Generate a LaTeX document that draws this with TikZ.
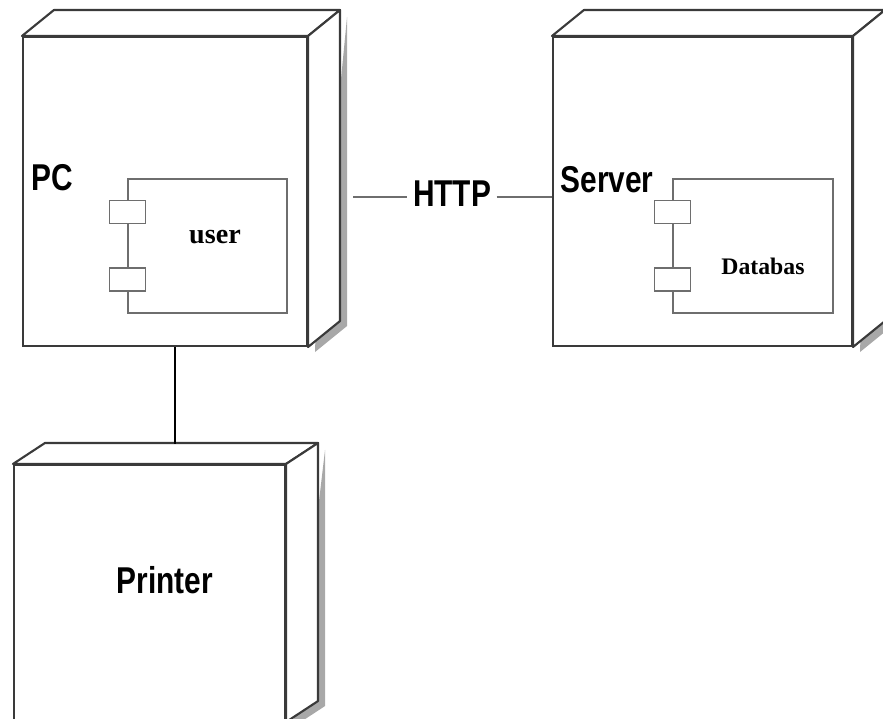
\documentclass[tikz,border=0pt]{standalone}
\usepackage{fontspec}
\setmainfont{Liberation Serif}
\newfontfamily\arialfont{Liberation Sans}
\usetikzlibrary{positioning, calc}
\definecolor{edgeGrey}{HTML}{3A3A3A}
\definecolor{wireGrey}{HTML}{6E6E6E}
\definecolor{shadeGrey}{HTML}{A8A8A8}
\newcommand{\tallsans}[1]{\scalebox{1}[1.25]{\arialfont\bfseries #1}}

\begin{document}
\begin{tikzpicture}[x=0.02cm, y=-0.02cm,
  devbox/.style={draw=edgeGrey, line width=1.2pt, fill=white, inner sep=0pt},
  side/.style={draw=edgeGrey, line width=1.2pt, fill=white, line join=round},
  comp/.style={draw=wireGrey, line width=0.8pt, fill=white, inner sep=0pt},
  port/.style={draw=wireGrey, line width=0.8pt, fill=white, inner sep=0pt,
               minimum width=0.72cm, minimum height=0.46cm},
  devlabel/.style={inner sep=1pt, font=\fontsize{17}{20}\selectfont},
  link/.style={draw=wireGrey, line width=1.1pt},
  wire/.style={draw=black, line width=0.6pt}]
  \useasboundingbox (0,0) rectangle (883,718);
  \clip (0,0) rectangle (883,718);
  % device nodes (front faces)
  \node[devbox, minimum width=5.68cm, minimum height=6.18cm] (pc) at (165,191.5) {};
  \node[devbox, minimum width=5.98cm, minimum height=6.18cm] (server) at (702.5,191.5) {};
  \node[devbox, minimum width=5.42cm, minimum height=5.12cm] (printer) at (149.5,593) {};
  % top and side faces, with a soft shadow
  \foreach \n/\dy in {pc/26, server/26, printer/21}{
    \fill[shadeGrey] ($(\n.north east)+(39,-\dy+7)$) -- ($(\n.south east)+(39,-\dy+5)$)
      -- ($(\n.south east)+(7,5)$) -- ($(\n.south east)+(7,0)$) -- cycle;
    \draw[side] (\n.north west) -- ++(32,-\dy) -- ($(\n.north east)+(32,-\dy)$)
      -- (\n.north east) -- cycle;
    \draw[side] (\n.north east) -- ++(32,-\dy) -- ($(\n.south east)+(32,-\dy)$)
      -- (\n.south east) -- cycle;
  }
  % components
  \node[comp, minimum width=3.18cm, minimum height=2.68cm] (user) at (207.5,246) {};
  \node[comp, minimum width=3.2cm, minimum height=2.68cm] (db) at (753,246) {};
  \foreach \c in {user, db}{
    \node[port] (\c p1) at ($(\c.north west)+(0,33.5)$) {};
    \node[port] (\c p2) at ($(\c.north west)+(0,101)$) {};
  }
  \node[font=\bfseries\fontsize{16}{19}\selectfont] (usertext) at (215,237) {user};
  \node[font=\bfseries\fontsize{13.5}{16}\selectfont] (dbtext) at (763,266) {Databas};
  % device labels
  \node[devlabel] (pclabel) at (52,178) {\tallsans{PC}};
  \node[devlabel] (serverlabel) at (607,180) {\tallsans{Server}};
  \node[devlabel] (printerlabel) at (165,580) {\tallsans{Printer}};
  % connectors
  \node[devlabel, inner sep=3pt] (http) at (452,194) {\tallsans{HTTP}};
  \coordinate (pcport) at (353,197);
  \coordinate (prtop) at (175,444);
  \draw[link] (pcport) -- (pcport -| http.west);
  \draw[link] (pcport -| http.east) -- (pcport -| server.west);
  \draw[wire] (pc.south -| prtop) -- (prtop);
\end{tikzpicture}
\end{document}
